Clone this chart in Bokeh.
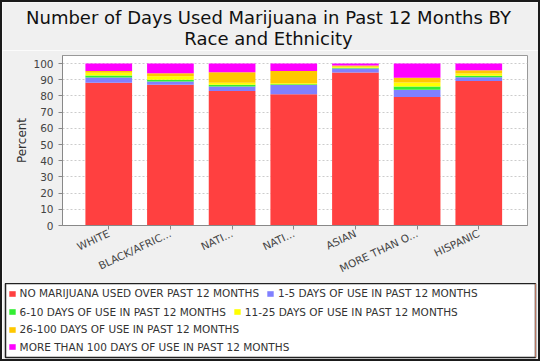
from bokeh.plotting import figure
from bokeh.models import (ColumnDataSource, Range1d, FixedTicker, Legend, LegendItem, Label)
from bokeh.layouts import column
from bokeh.embed import file_html
from bokeh.resources import INLINE

title_lines = ["Number of Days Used Marijuana in Past 12 Months BY", "Race and Ethnicity"]
y_axis_label = "Percent"
categories = ["WHITE", "BLACK/AFRIC...", "NATI...", "NATI...", "ASIAN", "MORE THAN O...", "HISPANIC"]
series_names = [
    "NO MARIJUANA USED OVER PAST 12 MONTHS",
    "1-5 DAYS OF USE IN PAST 12 MONTHS",
    "6-10 DAYS OF USE IN PAST 12 MONTHS",
    "11-25 DAYS OF USE IN PAST 12 MONTHS",
    "26-100 DAYS OF USE IN PAST 12 MONTHS",
    "MORE THAN 100 DAYS OF USE IN PAST 12 MONTHS",
]
no_use = [88.2, 87.0, 83.0, 81.0, 94.5, 79.3, 89.2]
days_1_5 = [3.2, 2.0, 2.9, 5.8, 2.5, 4.5, 2.3]
days_6_10 = [1.3, 1.0, 1.1, 0.4, 0.4, 2.0, 1.0]
days_11_25 = [1.6, 2.2, 1.2, 0.6, 0.6, 2.6, 1.4]
days_26_100 = [1.2, 1.8, 6.4, 7.7, 0.8, 2.8, 2.0]
days_100_plus = [4.5, 6.0, 5.4, 4.5, 1.2, 8.8, 4.1]
y_ticks = [0, 10, 20, 30, 40, 50, 60, 70, 80, 90, 100]

colors = ["#FF4040", "#8080FF", "#33EE33", "#FFFF00", "#FFC800", "#FF00FF"]
series = [no_use, days_1_5, days_6_10, days_11_25, days_26_100, days_100_plus]
keys = ["s%d" % i for i in range(len(series))]

xs = list(range(len(categories)))
data = {"x": xs}
for k, s in zip(keys, series):
    data[k] = s
source = ColumnDataSource(data)

FONT = "DejaVu Sans"
BG = "#F0F0F0"
W = 536
T_H, P_H, Q_H = 48, 233, 76


def no_frame_align(fig):
    if "frame_align" in fig.properties():
        fig.frame_align = False


# ---- title strip ----
t = figure(width=W, height=T_H, output_backend="svg", toolbar_location=None,
           x_range=Range1d(0, W), y_range=Range1d(0, T_H),
           x_axis_type=None, y_axis_type=None, title_location=None,
           min_border_left=0, min_border_right=0, min_border_top=0, min_border_bottom=0,
           background_fill_color=BG, border_fill_color=BG, outline_line_color=None)
t.xgrid.visible = False
t.ygrid.visible = False
no_frame_align(t)
for line, base in zip(title_lines, [14.9, 36.3]):
    t.add_layout(Label(x=266, y=T_H - base, x_units="screen", y_units="screen",
                       text=line, text_align="center", text_baseline="alphabetic",
                       text_font=FONT, text_font_size="18px", text_color="#111111"))

# ---- chart ----
p = figure(width=W, height=P_H, output_backend="svg", toolbar_location=None,
           x_range=Range1d(-0.75, 6.79), y_range=Range1d(0, 105),
           min_border_left=60, min_border_right=11, min_border_top=5,
           min_border_bottom=58, title_location=None,
           background_fill_color="white", border_fill_color=BG,
           outline_line_color="#999999")
no_frame_align(p)

p.vbar_stack(keys, x="x", width=0.757, color=colors, line_color=None, source=source)

p.xgrid.grid_line_color = None
p.ygrid.grid_line_color = "#CCCCCC"
p.ygrid.grid_line_dash = "2 2"
p.ygrid.ticker = FixedTicker(ticks=y_ticks)

p.xaxis.ticker = FixedTicker(ticks=xs)
p.xaxis.major_label_overrides = {i: c for i, c in enumerate(categories)}
p.xaxis.major_label_orientation = 0.44
p.xaxis.major_label_standoff = 3
p.yaxis.ticker = FixedTicker(ticks=y_ticks)
p.yaxis.axis_label = y_axis_label
p.yaxis.axis_label_standoff = 1
for ax in (p.xaxis, p.yaxis):
    ax.axis_line_color = "#888888"
    ax.major_tick_line_color = "#888888"
    ax.major_tick_in = 0
    ax.major_tick_out = 4
    ax.minor_tick_line_color = None
    ax.major_label_text_font = FONT
    ax.major_label_text_font_size = "10.5px"
    ax.major_label_text_color = "#444444"
p.yaxis.axis_label_text_font = FONT
p.yaxis.axis_label_text_font_size = "12px"
p.yaxis.axis_label_text_font_style = "normal"
p.yaxis.axis_label_text_color = "#333333"

# ---- legend box ----
q = figure(width=W, height=Q_H, output_backend="svg", toolbar_location=None,
           x_range=Range1d(0, 1), y_range=Range1d(0, 1),
           x_axis_type=None, y_axis_type=None, title_location=None,
           min_border_left=3, min_border_right=3, min_border_top=0, min_border_bottom=2,
           background_fill_color="white", border_fill_color=BG,
           outline_line_color="#222222", outline_line_width=1.5)
q.xgrid.visible = False
q.ygrid.visible = False
no_frame_align(q)

swatches = [q.vbar(x=[5], top=[1], width=0.1, color=c, line_color=None) for c in colors]

rows = [[0, 1], [2, 3], [4], [5]]
row_bottoms = [57.7, 39.3, 21.7, 4.3]
for row, yb in zip(rows, row_bottoms):
    leg = Legend(items=[LegendItem(label=series_names[i], renderers=[swatches[i]]) for i in row],
                 location=(2.6, yb), orientation="horizontal", padding=0, margin=0,
                 spacing=7, label_standoff=4, glyph_width=8, glyph_height=7,
                 label_height=12, label_text_font=FONT, label_text_font_size="10.5px",
                 label_text_color="#333333", border_line_color=None,
                 background_fill_alpha=0)
    q.add_layout(leg, "center")

layout = column(t, p, q, spacing=0)
layout.styles = {"border": "2px solid #1a1a1a"}
open("out.html", "w").write(file_html(layout, INLINE))
